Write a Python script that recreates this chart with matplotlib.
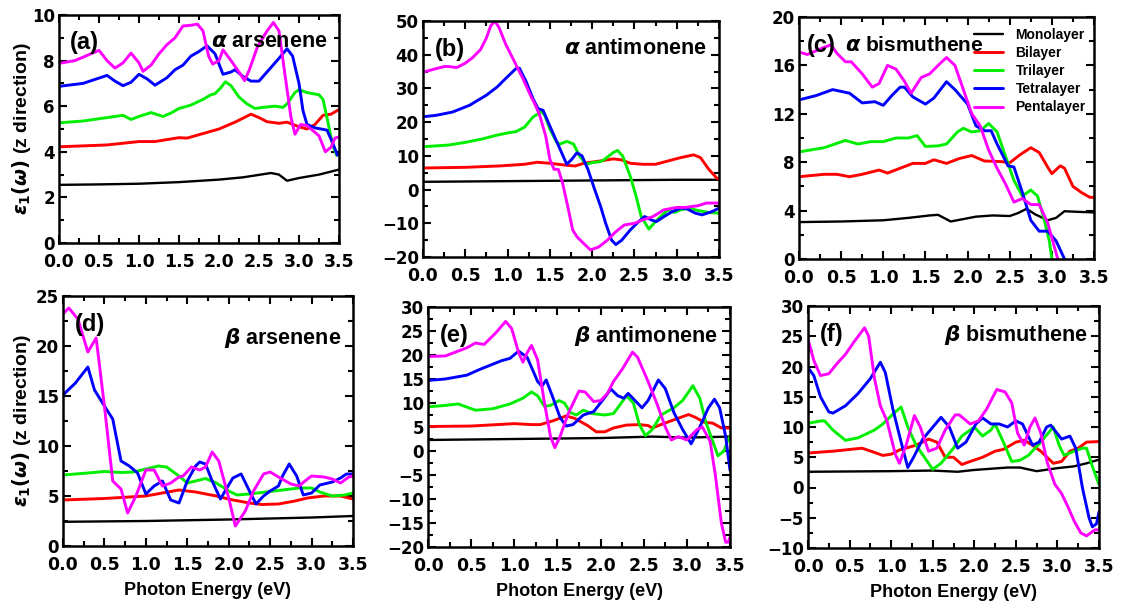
import matplotlib
matplotlib.use("Agg")
import matplotlib.pyplot as plt
from matplotlib.ticker import MultipleLocator, FormatStrFormatter

plt.rcParams['font.family'] = ['Liberation Sans', 'DejaVu Sans']
plt.rcParams['font.weight'] = 'bold'
plt.rcParams['mathtext.fontset'] = 'dejavusans'

LAYERS = ['Monolayer', 'Bilayer', 'Trilayer', 'Tetralayer', 'Pentalayer']
COLORS = ['#000000', '#ff0000', '#00ee00', '#0000ff', '#ff00ff']

# (a) alpha arsenene  -- (energy eV, eps1)
A_MONO = [(0, 2.55), (0.5, 2.57), (1.0, 2.6), (1.5, 2.67), (2.0, 2.78), (2.3, 2.88), (2.65, 3.07),
          (2.75, 3.0), (2.85, 2.73), (3.0, 2.85), (3.25, 3.0), (3.5, 3.22)]
A_BI = [(0, 4.22), (0.6, 4.3), (1.0, 4.45), (1.2, 4.45), (1.5, 4.62), (1.6, 4.6), (1.85, 4.85), (2.0, 5.0),
        (2.2, 5.3), (2.4, 5.65), (2.5, 5.5), (2.6, 5.32), (2.75, 5.25), (2.85, 5.3), (3.0, 5.1), (3.1, 5.0),
        (3.2, 5.2), (3.3, 5.6), (3.4, 5.65), (3.5, 5.85)]
A_TRI = [(0, 5.27), (0.3, 5.35), (0.6, 5.5), (0.8, 5.6), (0.9, 5.42), (1.0, 5.55), (1.15, 5.72), (1.3, 5.55),
         (1.4, 5.7), (1.5, 5.9), (1.65, 6.05), (1.8, 6.3), (1.9, 6.5), (1.95, 6.55), (2.02, 6.8), (2.08, 7.07),
         (2.15, 6.9), (2.25, 6.4), (2.35, 6.1), (2.45, 5.9), (2.55, 5.95), (2.7, 6.0), (2.8, 5.95), (2.85, 6.1),
         (2.95, 6.6), (3.0, 6.72), (3.1, 6.6), (3.25, 6.5), (3.3, 6.3), (3.35, 5.5), (3.42, 4.3), (3.47, 3.85),
         (3.5, 3.9)]
A_TETRA = [(0, 6.87), (0.3, 7.0), (0.6, 7.35), (0.7, 7.1), (0.8, 6.9), (0.9, 7.05), (1.0, 7.4), (1.1, 7.2),
           (1.2, 6.92), (1.35, 7.25), (1.45, 7.6), (1.55, 7.8), (1.65, 8.2), (1.75, 8.4), (1.85, 8.65),
           (1.95, 8.3), (2.05, 7.4), (2.15, 7.5), (2.2, 7.6), (2.3, 7.3), (2.4, 7.1), (2.5, 7.1), (2.6, 7.5),
           (2.7, 7.9), (2.75, 8.1), (2.85, 8.52), (2.92, 8.2), (3.0, 7.0), (3.05, 5.8), (3.1, 5.2), (3.2, 5.05),
           (3.35, 4.95), (3.42, 4.4), (3.48, 3.85), (3.5, 3.9)]
A_PENTA = [(0, 7.88), (0.2, 8.0), (0.4, 8.3), (0.5, 8.45), (0.6, 8.0), (0.7, 7.67), (0.8, 7.9), (0.9, 8.33),
           (1.0, 7.9), (1.05, 7.53), (1.15, 7.8), (1.25, 8.3), (1.35, 8.7), (1.45, 9.0), (1.55, 9.52),
           (1.65, 9.55), (1.73, 9.6), (1.8, 9.3), (1.87, 8.2), (1.92, 7.85), (2.0, 8.0), (2.05, 8.47),
           (2.15, 8.0), (2.25, 7.5), (2.32, 7.12), (2.38, 7.6), (2.48, 8.6), (2.6, 9.3), (2.68, 9.67),
           (2.75, 9.3), (2.82, 7.5), (2.9, 5.5), (2.95, 4.77), (3.02, 5.2), (3.1, 5.15), (3.25, 4.7),
           (3.33, 4.0), (3.4, 4.2), (3.45, 4.6), (3.5, 4.65)]

# (b) alpha antimonene
B_MONO = [(0, 2.3), (1.0, 2.5), (2.0, 2.7), (3.0, 2.9), (3.5, 2.9)]
B_BI = [(0, 6.4), (0.5, 6.6), (0.9, 7.0), (1.2, 7.5), (1.35, 8.1), (1.5, 7.8), (1.7, 7.2), (1.8, 7.0),
        (1.9, 7.8), (2.1, 8.5), (2.25, 9.1), (2.35, 8.8), (2.45, 7.8), (2.6, 7.5), (2.75, 7.5), (2.9, 8.5),
        (3.05, 9.5), (3.2, 10.3), (3.28, 9.5), (3.38, 6.0), (3.47, 3.5), (3.5, 3.0)]
B_TRI = [(0, 12.7), (0.3, 13.2), (0.5, 14.0), (0.7, 15.0), (0.85, 16.0), (1.0, 16.8), (1.1, 17.2),
         (1.2, 18.5), (1.3, 21.5), (1.4, 23.1), (1.44, 22.0), (1.5, 18.0), (1.58, 14.0), (1.62, 13.5),
         (1.7, 14.3), (1.78, 13.5), (1.85, 10.0), (1.93, 7.5), (2.0, 8.0), (2.1, 8.3), (2.15, 9.0),
         (2.25, 11.0), (2.3, 11.6), (2.36, 10.0), (2.45, 4.0), (2.52, -2.0), (2.58, -8.0), (2.67, -11.7),
         (2.75, -9.5), (2.83, -7.5), (2.9, -6.0), (2.97, -6.8), (3.05, -6.0), (3.15, -5.5), (3.25, -6.2),
         (3.38, -6.8), (3.5, -7.0)]
B_TETRA = [(0, 21.6), (0.15, 22.0), (0.35, 23.0), (0.55, 25.0), (0.75, 28.0), (0.88, 30.5), (0.98, 33.0),
           (1.1, 35.9), (1.14, 36.0), (1.22, 32.0), (1.3, 27.0), (1.36, 24.0), (1.42, 23.5), (1.48, 20.0),
           (1.55, 16.0), (1.62, 12.0), (1.7, 7.5), (1.76, 9.0), (1.82, 10.9), (1.88, 10.0), (1.95, 6.0),
           (2.03, 0.0), (2.1, -5.0), (2.16, -10.0), (2.23, -15.0), (2.28, -16.3), (2.35, -15.0), (2.45, -12.0),
           (2.55, -9.5), (2.62, -8.0), (2.7, -9.0), (2.76, -9.5), (2.85, -8.0), (2.95, -6.5), (3.05, -5.5),
           (3.12, -5.7), (3.22, -7.0), (3.3, -7.5), (3.42, -6.5), (3.5, -5.5)]
B_PENTA = [(0, 34.8), (0.1, 35.5), (0.25, 36.5), (0.3, 36.5), (0.4, 36.2), (0.5, 37.5), (0.58, 39.0),
           (0.68, 41.5), (0.75, 45.0), (0.8, 48.5), (0.85, 50.0), (0.9, 48.0), (0.98, 43.0), (1.08, 38.0),
           (1.18, 33.0), (1.27, 28.0), (1.33, 25.0), (1.38, 22.0), (1.45, 16.0), (1.5, 9.0), (1.55, 6.0),
           (1.6, 6.0), (1.65, 2.0), (1.72, -6.0), (1.77, -12.0), (1.82, -14.0), (1.9, -16.0), (1.98, -17.9),
           (2.08, -17.0), (2.18, -15.0), (2.28, -12.5), (2.38, -10.5), (2.5, -10.0), (2.6, -9.0), (2.72, -8.0),
           (2.85, -6.0), (3.0, -5.3), (3.1, -5.3), (3.25, -4.8), (3.35, -4.0), (3.5, -4.0)]

# (c) alpha bismuthene
C_MONO = [(0, 3.05), (0.5, 3.1), (1.0, 3.2), (1.3, 3.4), (1.55, 3.6), (1.65, 3.65), (1.8, 3.1), (1.95, 3.3),
          (2.1, 3.5), (2.3, 3.6), (2.5, 3.55), (2.6, 3.8), (2.7, 4.15), (2.8, 3.7), (2.95, 3.2), (3.05, 3.4),
          (3.15, 3.95), (3.3, 3.9), (3.5, 3.85)]
C_BI = [(0, 6.8), (0.3, 7.0), (0.45, 7.0), (0.6, 6.8), (0.75, 7.0), (0.95, 7.35), (1.05, 7.1), (1.2, 7.5),
        (1.35, 7.9), (1.5, 7.9), (1.6, 8.2), (1.75, 7.9), (1.9, 8.3), (2.05, 8.55), (2.2, 8.1), (2.4, 8.05),
        (2.5, 7.95), (2.62, 8.6), (2.75, 9.2), (2.85, 8.8), (2.95, 7.6), (3.0, 7.05), (3.1, 7.7), (3.15, 7.5),
        (3.25, 6.0), (3.35, 5.5), (3.45, 5.1), (3.5, 5.1)]
C_TRI = [(0, 8.85), (0.3, 9.2), (0.55, 9.8), (0.7, 9.5), (0.85, 9.7), (1.0, 9.7), (1.15, 10.0), (1.3, 10.0),
         (1.4, 10.2), (1.5, 9.3), (1.65, 9.35), (1.75, 9.5), (1.88, 10.5), (1.95, 10.8), (2.05, 10.5),
         (2.15, 10.6), (2.25, 11.2), (2.35, 10.5), (2.45, 8.5), (2.55, 6.5), (2.65, 5.2), (2.75, 5.7),
         (2.83, 5.2), (2.9, 3.5), (2.97, 1.5), (3.0, 0.0), (3.02, -1.0)]
C_TETRA = [(0, 13.15), (0.2, 13.5), (0.4, 14.0), (0.6, 13.7), (0.75, 12.9), (0.9, 13.0), (1.0, 12.7),
           (1.1, 13.5), (1.2, 14.2), (1.25, 14.2), (1.35, 13.4), (1.5, 12.8), (1.6, 13.3), (1.75, 14.65),
           (1.85, 14.0), (2.0, 12.8), (2.1, 11.0), (2.2, 10.6), (2.28, 10.6), (2.35, 9.5), (2.48, 7.7),
           (2.55, 7.6), (2.65, 5.5), (2.75, 3.2), (2.85, 2.3), (2.95, 2.3), (3.05, 1.5), (3.15, 0.0),
           (3.17, -1.0)]
C_PENTA = [(0, 17.1), (0.1, 16.9), (0.3, 17.5), (0.38, 17.7), (0.45, 17.0), (0.55, 16.3), (0.62, 16.3),
           (0.75, 15.3), (0.87, 14.2), (0.95, 14.5), (1.05, 16.0), (1.15, 15.7), (1.25, 14.7), (1.33, 13.7),
           (1.45, 15.0), (1.55, 15.3), (1.65, 16.0), (1.75, 16.65), (1.85, 16.0), (1.95, 14.0), (2.05, 12.0),
           (2.15, 11.0), (2.25, 9.0), (2.35, 7.5), (2.45, 6.2), (2.55, 4.7), (2.65, 5.0), (2.75, 4.5),
           (2.85, 4.5), (2.95, 3.0), (3.03, 1.0), (3.07, 0.0), (3.09, -1.0)]

# (d) beta arsenene
D_MONO = [(0, 2.42), (1.0, 2.5), (2.0, 2.65), (3.0, 2.85), (3.5, 3.0)]
D_BI = [(0, 4.6), (0.5, 4.75), (1.0, 5.0), (1.2, 5.3), (1.4, 5.6), (1.6, 5.4), (1.85, 5.0), (2.05, 4.6),
        (2.25, 4.3), (2.4, 4.15), (2.6, 4.2), (2.8, 4.5), (2.95, 4.8), (3.15, 5.0), (3.35, 5.0), (3.5, 4.7)]
D_TRI = [(0, 7.1), (0.3, 7.3), (0.5, 7.45), (0.7, 7.35), (0.85, 7.4), (1.0, 7.7), (1.15, 8.0), (1.25, 7.9),
         (1.4, 7.0), (1.5, 6.3), (1.6, 6.5), (1.72, 6.75), (1.85, 6.3), (2.0, 5.5), (2.1, 5.1), (2.25, 5.2),
         (2.45, 5.4), (2.65, 5.6), (2.85, 5.8), (3.0, 5.8), (3.1, 5.4), (3.25, 5.0), (3.4, 5.1), (3.5, 5.3)]
D_TETRA = [(0, 15.1), (0.05, 15.5), (0.15, 16.3), (0.3, 17.9), (0.38, 15.6), (0.5, 14.0), (0.6, 12.7),
           (0.7, 8.5), (0.8, 8.0), (0.9, 7.3), (1.0, 5.2), (1.1, 6.0), (1.2, 6.5), (1.3, 4.6), (1.4, 4.3),
           (1.5, 6.5), (1.6, 8.0), (1.65, 8.4), (1.72, 8.2), (1.8, 6.5), (1.9, 4.7), (2.05, 6.8), (2.15, 7.2),
           (2.25, 5.5), (2.33, 4.2), (2.42, 5.0), (2.5, 5.5), (2.6, 6.0), (2.65, 7.0), (2.73, 8.2), (2.82, 7.0),
           (2.9, 5.1), (3.0, 5.3), (3.1, 6.1), (3.25, 6.4), (3.35, 6.8), (3.42, 7.2), (3.5, 7.2)]
D_PENTA = [(0, 23.2), (0.07, 23.8), (0.18, 22.7), (0.3, 19.4), (0.4, 20.8), (0.5, 14.0), (0.6, 6.5),
           (0.7, 5.7), (0.78, 3.3), (0.88, 5.0), (1.0, 7.6), (1.1, 7.6), (1.2, 6.0), (1.3, 6.3), (1.4, 6.9),
           (1.45, 7.0), (1.55, 7.9), (1.65, 7.6), (1.72, 7.9), (1.8, 9.4), (1.88, 8.5), (2.0, 4.8), (2.08, 2.0),
           (2.2, 3.5), (2.3, 5.5), (2.42, 7.2), (2.5, 7.4), (2.6, 6.9), (2.75, 6.2), (2.85, 6.0), (2.92, 6.5),
           (3.0, 7.0), (3.15, 6.9), (3.25, 6.7), (3.35, 6.3), (3.45, 6.9), (3.5, 7.0)]

# (e) beta antimonene
E_MONO = [(0, 2.3), (1.0, 2.5), (2.0, 2.7), (2.6, 3.0), (3.0, 2.8), (3.5, 3.0)]
E_BI = [(0, 5.1), (0.5, 5.2), (1.0, 5.7), (1.2, 5.5), (1.3, 5.5), (1.45, 6.3), (1.6, 7.3), (1.7, 6.8),
        (1.85, 5.3), (1.95, 4.0), (2.05, 4.0), (2.15, 4.8), (2.3, 5.4), (2.45, 5.5), (2.55, 5.3), (2.6, 4.8),
        (2.7, 5.5), (2.85, 6.5), (3.02, 7.6), (3.1, 7.0), (3.2, 6.0), (3.3, 5.8), (3.4, 4.8), (3.5, 4.8)]
E_TRI = [(0, 9.2), (0.2, 9.5), (0.35, 9.8), (0.55, 8.5), (0.75, 8.8), (0.95, 9.8), (1.1, 11.0), (1.2, 12.3),
         (1.27, 11.5), (1.35, 9.3), (1.42, 9.5), (1.52, 10.5), (1.58, 10.0), (1.65, 8.0), (1.72, 7.5),
         (1.8, 8.5), (1.9, 7.8), (2.05, 7.5), (2.15, 7.8), (2.22, 9.5), (2.3, 11.5), (2.38, 10.0), (2.45, 5.5),
         (2.52, 3.2), (2.6, 4.5), (2.7, 7.5), (2.85, 9.0), (2.95, 10.5), (3.07, 13.6), (3.15, 11.0),
         (3.22, 6.0), (3.3, 2.0), (3.36, -1.0), (3.43, 0.0), (3.47, 2.0), (3.5, 3.0)]
E_TETRA = [(0, 14.7), (0.2, 15.0), (0.45, 15.8), (0.6, 17.0), (0.85, 18.8), (0.95, 19.3), (1.05, 20.8),
           (1.15, 19.5), (1.27, 14.5), (1.32, 13.5), (1.37, 14.8), (1.45, 11.0), (1.53, 7.0), (1.6, 5.2),
           (1.68, 5.5), (1.8, 7.5), (1.92, 8.2), (2.02, 10.5), (2.12, 12.9), (2.2, 11.5), (2.27, 11.0),
           (2.32, 12.0), (2.4, 10.5), (2.48, 9.0), (2.55, 10.5), (2.67, 14.8), (2.75, 13.0), (2.85, 8.0),
           (2.95, 4.5), (3.05, 1.5), (3.15, 5.0), (3.25, 9.0), (3.32, 10.8), (3.38, 9.0), (3.45, 3.0),
           (3.5, -4.0)]
E_PENTA = [(0, 19.7), (0.2, 19.8), (0.45, 21.5), (0.55, 22.5), (0.65, 22.2), (0.78, 24.5), (0.9, 27.0),
           (0.97, 25.5), (1.05, 20.5), (1.1, 18.5), (1.15, 20.5), (1.2, 22.0), (1.27, 19.0), (1.35, 10.0),
           (1.42, 3.0), (1.47, 0.7), (1.53, 3.0), (1.63, 8.0), (1.75, 12.5), (1.82, 12.3), (1.92, 10.3),
           (2.0, 10.5), (2.08, 12.0), (2.15, 14.5), (2.25, 17.0), (2.37, 20.6), (2.43, 19.5), (2.55, 14.5),
           (2.65, 10.0), (2.75, 5.0), (2.82, 2.3), (2.9, 3.0), (3.0, 2.3), (3.12, 4.5), (3.18, 5.0),
           (3.27, 2.0), (3.33, -5.0), (3.4, -15.0), (3.45, -19.0), (3.48, -19.0), (3.5, -18.0)]

# (f) beta bismuthene
F_MONO = [(0, 2.6), (1.0, 2.7), (1.5, 2.8), (1.8, 2.6), (2.0, 2.9), (2.4, 3.3), (2.55, 3.3), (2.75, 2.7),
          (3.0, 3.2), (3.2, 3.5), (3.35, 4.0), (3.5, 4.6)]
F_BI = [(0, 5.7), (0.3, 6.0), (0.65, 6.5), (0.8, 5.8), (0.9, 5.3), (1.0, 5.5), (1.1, 6.2), (1.3, 7.0),
        (1.45, 8.0), (1.55, 7.5), (1.65, 5.0), (1.75, 5.0), (1.85, 3.8), (1.95, 4.3), (2.1, 5.0), (2.25, 6.0),
        (2.35, 6.3), (2.5, 7.5), (2.6, 7.8), (2.7, 7.0), (2.8, 6.0), (2.95, 4.0), (3.05, 4.3), (3.15, 6.0),
        (3.25, 6.5), (3.35, 7.5), (3.5, 7.6)]
F_TRI = [(0, 10.6), (0.15, 11.0), (0.2, 11.0), (0.3, 9.5), (0.45, 7.8), (0.6, 8.2), (0.8, 9.5), (0.9, 10.5),
         (1.05, 12.5), (1.12, 13.3), (1.2, 10.0), (1.3, 7.0), (1.4, 5.0), (1.5, 3.0), (1.6, 4.0), (1.75, 6.5),
         (1.85, 8.5), (2.0, 10.0), (2.1, 8.5), (2.2, 9.5), (2.25, 10.5), (2.35, 7.5), (2.45, 4.3), (2.55, 4.5),
         (2.65, 5.3), (2.8, 7.5), (2.95, 10.0), (3.02, 7.0), (3.08, 5.3), (3.2, 6.0), (3.3, 6.5), (3.35, 6.5),
         (3.42, 3.5), (3.5, 0.5)]
F_TETRA = [(0, 19.8), (0.07, 18.5), (0.15, 15.0), (0.25, 12.5), (0.3, 12.3), (0.45, 13.5), (0.6, 15.5),
           (0.75, 18.0), (0.87, 20.7), (0.93, 19.0), (1.02, 13.0), (1.12, 7.5), (1.2, 3.3), (1.27, 5.0),
           (1.38, 8.0), (1.6, 11.6), (1.7, 10.0), (1.8, 6.5), (1.9, 7.5), (2.02, 10.5), (2.1, 11.5),
           (2.2, 10.5), (2.3, 10.5), (2.4, 10.0), (2.5, 11.0), (2.58, 10.5), (2.7, 7.0), (2.78, 7.5),
           (2.87, 10.0), (2.92, 10.3), (3.05, 8.0), (3.15, 8.5), (3.22, 6.5), (3.3, 0.0), (3.38, -5.0),
           (3.42, -6.5), (3.47, -6.0), (3.5, -4.0)]
F_PENTA = [(0, 24.5), (0.07, 21.0), (0.15, 18.5), (0.25, 18.8), (0.35, 20.5), (0.45, 22.0), (0.55, 24.0),
           (0.68, 26.4), (0.73, 25.0), (0.8, 18.0), (0.87, 13.5), (0.95, 11.0), (1.05, 5.5), (1.1, 4.0),
           (1.18, 7.0), (1.28, 11.9), (1.35, 10.0), (1.45, 6.0), (1.55, 6.5), (1.65, 9.5), (1.77, 12.0),
           (1.82, 12.0), (1.95, 10.5), (2.05, 11.0), (2.15, 13.0), (2.27, 16.2), (2.37, 15.8), (2.45, 14.0),
           (2.52, 9.0), (2.6, 7.0), (2.67, 10.0), (2.73, 11.5), (2.8, 9.0), (2.88, 4.0), (2.97, 0.5),
           (3.05, -1.0), (3.12, -3.0), (3.2, -5.5), (3.28, -7.5), (3.35, -8.0), (3.45, -7.0), (3.5, -7.0)]

# panel settings: tag, name, series, ylim, major, minor, axes box (left, top, right, bottom px)
PANELS = [
    ('(a)', r'$\mathit{\alpha}$ arsenene', [A_MONO, A_BI, A_TRI, A_TETRA, A_PENTA], (0, 10), 2, 1, (59, 15, 339, 243)),
    ('(b)', r'$\mathit{\alpha}$ antimonene', [B_MONO, B_BI, B_TRI, B_TETRA, B_PENTA], (-20, 50), 10, 5, (423, 21, 719, 257)),
    ('(c)', r'$\mathit{\alpha}$ bismuthene', [C_MONO, C_BI, C_TRI, C_TETRA, C_PENTA], (0, 20), 4, 2, (799, 17, 1094, 259)),
    ('(d)', r'$\mathit{\beta}$ arsenene', [D_MONO, D_BI, D_TRI, D_TETRA, D_PENTA], (0, 25), 5, 2.5, (63, 296, 353, 546)),
    ('(e)', r'$\mathit{\beta}$ antimonene', [E_MONO, E_BI, E_TRI, E_TETRA, E_PENTA], (-20, 30), 5, 2.5, (428, 307, 730, 547)),
    ('(f)', r'$\mathit{\beta}$ bismuthene', [F_MONO, F_BI, F_TRI, F_TETRA, F_PENTA], (-10, 30), 5, 2.5, (808, 306, 1099, 548)),
]

W, H = 1122, 610
fig = plt.figure(figsize=(W / 100, H / 100), dpi=100)

for i, (tag, name, series, ylim, major, minor, box) in enumerate(PANELS):
    l, t, r, b = box
    ax = fig.add_axes([l / W, 1 - b / H, (r - l) / W, (b - t) / H])
    for k, s in enumerate(series):
        xs = [p[0] for p in s]
        ys = [p[1] for p in s]
        lw = 1.7 if k == 0 else 2.1
        ax.plot(xs, ys, color=COLORS[k], lw=lw, label=LAYERS[k], solid_capstyle='round')
    ax.set_xlim(0, 3.5)
    ax.set_ylim(*ylim)
    ax.xaxis.set_major_locator(MultipleLocator(0.5))
    ax.xaxis.set_minor_locator(MultipleLocator(0.25))
    ax.yaxis.set_major_locator(MultipleLocator(major))
    ax.yaxis.set_minor_locator(MultipleLocator(minor))
    ax.xaxis.set_major_formatter(FormatStrFormatter('%.1f'))
    ax.tick_params(which='both', direction='in', top=True, right=True, width=1.5)
    ax.tick_params(which='major', length=6)
    ax.tick_params(which='minor', length=3.5)
    ax.tick_params(axis='x', which='major', pad=7)
    ax.tick_params(axis='y', which='major', pad=3)
    for lab in ax.get_xticklabels():
        lab.set_fontfamily('DejaVu Sans')
        lab.set_fontweight('bold')
        lab.set_fontsize(12.5)
    for lab in ax.get_yticklabels():
        lab.set_fontfamily('DejaVu Sans')
        lab.set_fontweight('bold')
        lab.set_fontsize(12)
    for sp in ax.spines.values():
        sp.set_linewidth(1.8)
    if i == 2:
        ax.text(0.025, 0.93, tag, transform=ax.transAxes, fontsize=17, fontweight='bold', va='top', ha='left')
        ax.text(0.155, 0.92, name, transform=ax.transAxes, fontsize=15, fontweight='bold', va='top', ha='left')
        ax.legend(loc='upper right', bbox_to_anchor=(1.0, 0.99), frameon=False,
                  handlelength=2.1, labelspacing=0.3, borderaxespad=0.2, handletextpad=0.9,
                  prop={'weight': 'bold', 'size': 10})
    else:
        ax.text(0.04, 0.93, tag, transform=ax.transAxes, fontsize=17, fontweight='bold', va='top', ha='left')
        ny = 0.88 if i == 3 else 0.93
        ax.text(0.96, ny, name, transform=ax.transAxes, fontsize=15.5, fontweight='bold', va='top', ha='right')
    if i in (0, 3):
        ax.set_ylabel(r'$\mathit{\varepsilon}_1(\mathit{\omega})$ (z direction)', fontsize=14, fontweight='bold')
        ax.yaxis.set_label_coords((33 - l) / (r - l), 0.5)
    if i >= 3:
        ax.set_xlabel('Photon Energy (eV)', fontsize=13, fontweight='bold', labelpad=6)

fig.savefig('out.png', dpi=100)
